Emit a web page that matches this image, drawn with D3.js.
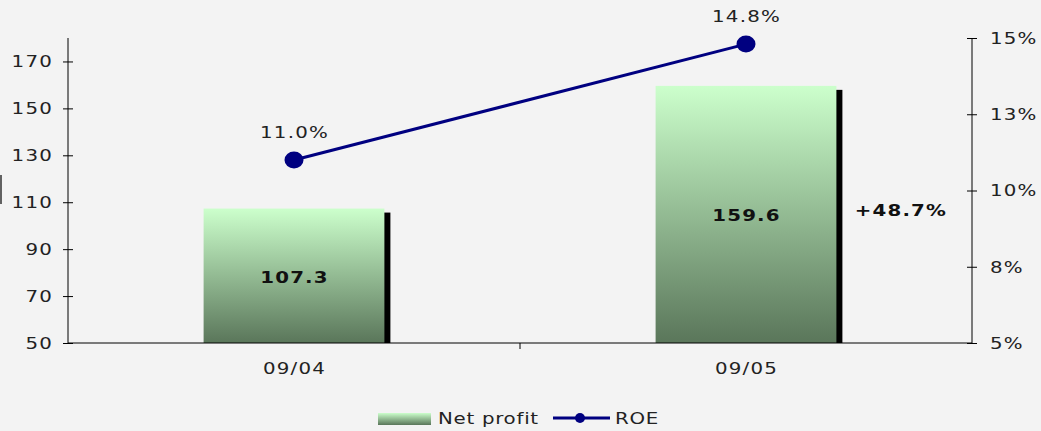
<!DOCTYPE html>
<html><head><meta charset="utf-8">
<script src="https://cdn.jsdelivr.net/npm/d3@7"></script>
<style>
html,body{margin:0;padding:0;background:#f3f3f3;}
svg{display:block;font-family:"DejaVu Sans",Verdana,sans-serif;}
text.sx{transform-box:fill-box;transform:scaleX(1.2);transform-origin:center;}
text.sxl{transform-box:fill-box;transform:scaleX(1.2);transform-origin:left;}
text.sxr{transform-box:fill-box;transform:scaleX(1.2);transform-origin:right;}
</style></head>
<body>
<svg id="c" width="1041" height="431"></svg>
<script>
const categories = ["09/04", "09/05"];
const netProfit = [107.3, 159.6];
const roe = [11.0, 14.8];
const leftTicks = [50, 70, 90, 110, 130, 150, 170];
const rightTicks = [5, 7.5, 10, 12.5, 15];
const rightTickLabels = ["5%", "8%", "10%", "13%", "15%"];
const growthLabel = "+48.7%";

const svg = d3.select("#c");
const W = 1041, H = 431;
const x0 = 68, x1 = 972, yTop = 38, yBot = 343;
const FS = 16.5, LS = 1, BLS = 1;
const FONT = "DejaVu Sans, Verdana, sans-serif";

svg.append("rect").attr("width", W).attr("height", H).attr("fill", "#f3f3f3");

const defs = svg.append("defs");
const g = defs.append("linearGradient").attr("id", "bg").attr("x1", 0).attr("y1", 0).attr("x2", 0).attr("y2", 1);
g.append("stop").attr("offset", "0%").attr("stop-color", "#ccffcc");
g.append("stop").attr("offset", "100%").attr("stop-color", "#5a765a");

const x = d3.scaleBand().domain(categories).range([x0, x1]).paddingInner(0).paddingOuter(0);
const yL = d3.scaleLinear().domain([50, 180]).range([yBot, yTop]);
const yR = d3.scaleLinear().domain([5, 15]).range([yBot, yTop]);

const barW = x.bandwidth() * 0.4;

// stray mark at left edge
svg.append("line").attr("x1", 1).attr("x2", 1).attr("y1", 175).attr("y2", 204).attr("stroke", "#000").attr("stroke-width", 1.2);

// shadows
svg.selectAll(".sh").data(netProfit).enter().append("rect")
  .attr("x", (d, i) => x(categories[i]) + (x.bandwidth() - barW) / 2 + 6)
  .attr("y", d => yL(d) + 4)
  .attr("width", barW)
  .attr("height", d => yBot - yL(d) - 4)
  .attr("fill", "#000");
// bars
svg.selectAll(".bar").data(netProfit).enter().append("rect")
  .attr("x", (d, i) => x(categories[i]) + (x.bandwidth() - barW) / 2)
  .attr("y", d => yL(d))
  .attr("width", barW)
  .attr("height", d => yBot - yL(d))
  .attr("fill", "url(#bg)");

// bar labels
svg.selectAll(".bl").data(netProfit).enter().append("text")
  .attr("class", "sx")
  .attr("x", (d, i) => x(categories[i]) + x.bandwidth() / 2 + BLS / 2)
  .attr("y", d => (yL(d) + yBot) / 2 + 7)
  .attr("text-anchor", "middle")
  .attr("font-size", FS).attr("font-weight", "bold").attr("letter-spacing", BLS)
  .attr("fill", "#111")
  .text(d => d.toFixed(1));

svg.append("text")
  .attr("class", "sx")
  .attr("x", x(categories[1]) + x.bandwidth() / 2 + barW / 2 + 64 + BLS / 2)
  .attr("y", (yL(netProfit[1]) + yBot) / 2 + 2)
  .attr("text-anchor", "middle")
  .attr("font-size", FS).attr("font-weight", "bold").attr("letter-spacing", BLS)
  .attr("fill", "#111")
  .text(growthLabel);

// axes
const axL = d3.axisLeft(yL).tickValues(leftTicks).tickSize(5).tickPadding(11 - LS);
const gL = svg.append("g").attr("transform", `translate(${x0},0)`).call(axL);
gL.select(".domain").remove();
gL.selectAll(".tick line").attr("x2", 5).attr("x1", -5);
gL.selectAll("text").attr("class", "sxr");
svg.append("line").attr("x1", x0).attr("x2", x0).attr("y1", yTop).attr("y2", yBot).attr("stroke", "#000");

const axR = d3.axisRight(yR).tickValues(rightTicks).tickFormat((d, i) => rightTickLabels[i]).tickSize(5).tickPadding(13);
const gR = svg.append("g").attr("transform", `translate(${x1},0)`).call(axR);
gR.select(".domain").remove();
gR.selectAll(".tick line").attr("x1", -5).attr("x2", 5);
gR.selectAll("text").attr("class", "sxl");
svg.append("line").attr("x1", x1).attr("x2", x1).attr("y1", yTop).attr("y2", yBot).attr("stroke", "#000");

const axB = d3.axisBottom(x).tickSize(0).tickPadding(19);
const gB = svg.append("g").attr("transform", `translate(0,${yBot})`).call(axB);
gB.select(".domain").remove();
gB.selectAll("text").attr("dx", LS / 2).attr("class", "sx");
svg.append("line").attr("x1", x0).attr("x2", x1).attr("y1", yBot).attr("y2", yBot).attr("stroke", "#000");
svg.append("line").attr("x1", x(categories[1])).attr("x2", x(categories[1])).attr("y1", yBot).attr("y2", yBot + 6).attr("stroke", "#000");

[gL, gR, gB].forEach(gg => gg.selectAll("text").attr("font-size", FS).attr("letter-spacing", LS)
  .attr("fill", "#222").attr("font-family", FONT));
[gL, gR].forEach(gg => gg.selectAll(".tick line").attr("stroke", "#000"));

// ROE line
const cx = (d, i) => x(categories[i]) + x.bandwidth() / 2;
const line = d3.line().x((d, i) => cx(d, i)).y(d => yR(d));
svg.append("path").datum(roe).attr("d", line).attr("fill", "none").attr("stroke", "#000080").attr("stroke-width", 3);
svg.selectAll(".dot").data(roe).enter().append("ellipse")
  .attr("cx", cx).attr("cy", d => yR(d)).attr("rx", 9.5).attr("ry", 8.5).attr("fill", "#000080");
svg.selectAll(".rl").data(roe).enter().append("text")
  .attr("class", "sx")
  .attr("x", (d, i) => cx(d, i) + LS / 2).attr("y", d => yR(d) - 22)
  .attr("text-anchor", "middle").attr("font-size", FS).attr("letter-spacing", LS).attr("fill", "#222")
  .text(d => d.toFixed(1) + "%");

// legend
const lg = svg.append("g");
lg.append("rect").attr("x", 378).attr("y", 413).attr("width", 53).attr("height", 12).attr("fill", "url(#bg)");
lg.append("text").attr("class", "sxl").attr("x", 438).attr("y", 424).attr("font-size", FS).attr("letter-spacing", 0.6).attr("fill", "#222").text("Net profit");
lg.append("line").attr("x1", 553).attr("x2", 610).attr("y1", 418).attr("y2", 418).attr("stroke", "#000080").attr("stroke-width", 3);
lg.append("circle").attr("cx", 580).attr("cy", 418).attr("r", 5).attr("fill", "#000080");
lg.append("text").attr("class", "sxl").attr("x", 615).attr("y", 424).attr("font-size", FS).attr("letter-spacing", 0.6).attr("fill", "#222").text("ROE");
</script>
</body></html>
